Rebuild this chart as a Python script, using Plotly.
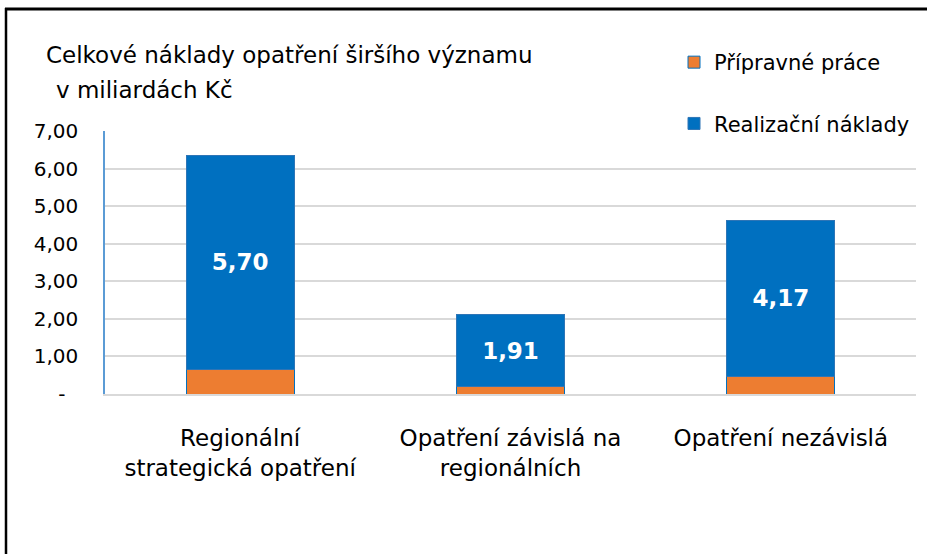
import plotly.graph_objects as go

categories = ["Regionální<br>strategická opatření", "Opatření závislá na<br>regionálních", "Opatření nezávislá"]
pripravne_prace = [0.66, 0.20, 0.46]
realizacni_naklady = [5.70, 1.91, 4.17]
y_tick_vals = [0, 1, 2, 3, 4, 5, 6, 7]
y_tick_text = ["-\u00a0\u00a0", "1,00", "2,00", "3,00", "4,00", "5,00", "6,00", "7,00"]

W, H = 927, 554
L, R, T, B = 105, 916, 131, 394
FONT = "DejaVu Sans"

def px(x):
    return (x - L) / (R - L)

def py(y):
    return (B - y) / (B - T)

fig = go.Figure()
fig.add_trace(go.Bar(
    x=categories, y=pripravne_prace, name="Přípravné práce",
    marker=dict(color="#ED7D31", line=dict(color="#0070C0", width=1)),
    legendgroup="a", hoverinfo="skip",
))
fig.add_trace(go.Bar(
    x=categories, y=realizacni_naklady, name="Realizační náklady",
    marker=dict(color="#0070C0", line=dict(color="#2E75B6", width=1)),
    texttemplate="%{y:.2f}", textposition="inside", insidetextanchor="middle",
    textfont=dict(color="white", size=23, family=FONT, weight="bold"),
    legendgroup="b", hoverinfo="skip",
))

fig.update_layout(
    width=W, height=H,
    barmode="stack", bargap=0.6,
    separators=", ",
    paper_bgcolor="white", plot_bgcolor="white",
    margin=dict(l=L, r=W - R, t=T, b=H - B, autoexpand=False),
    font=dict(family=FONT, size=22, color="#000000"),
    showlegend=True,
    legend=dict(
        x=px(674), y=py(42), xanchor="left", yanchor="top",
        traceorder="grouped", tracegroupgap=31,
        font=dict(size=21, family=FONT, color="#000000"),
        bgcolor="rgba(0,0,0,0)", itemwidth=30,
    ),
    xaxis=dict(
        showgrid=False, showline=True, linecolor="#D9D9D9", linewidth=2,
        ticks="", tickfont=dict(size=23, family=FONT), ticklabelstandoff=22,
        range=[-0.5, 2.5],
    ),
    yaxis=dict(
        range=[0, 7], tickvals=y_tick_vals, ticktext=y_tick_text,
        showgrid=True, gridcolor="#D9D9D9", gridwidth=2,
        showline=True, linecolor="#5B9BD5", linewidth=1.5,
        zeroline=False, ticks="", ticklabelstandoff=21,
        tickfont=dict(size=20, family=FONT),
    ),
    annotations=[
        dict(text="Celkové náklady opatření širšího významu", x=px(44), y=py(55),
             xref="paper", yref="paper", xanchor="left", yanchor="middle",
             showarrow=False, font=dict(size=23, family=FONT)),
        dict(text="v miliardách Kč", x=px(54), y=py(90),
             xref="paper", yref="paper", xanchor="left", yanchor="middle",
             showarrow=False, font=dict(size=23, family=FONT)),
    ],
    shapes=[
        dict(type="line", xref="paper", yref="paper", x0=px(5), x1=px(927), y0=py(9), y1=py(9),
             line=dict(color="black", width=3)),
        dict(type="line", xref="paper", yref="paper", x0=px(6), x1=px(6), y0=py(8), y1=py(554),
             line=dict(color="black", width=2.5)),
    ],
)

fig.write_html("out.html", config={"displayModeBar": False},
               post_script="document.body.style.margin='0px';")
